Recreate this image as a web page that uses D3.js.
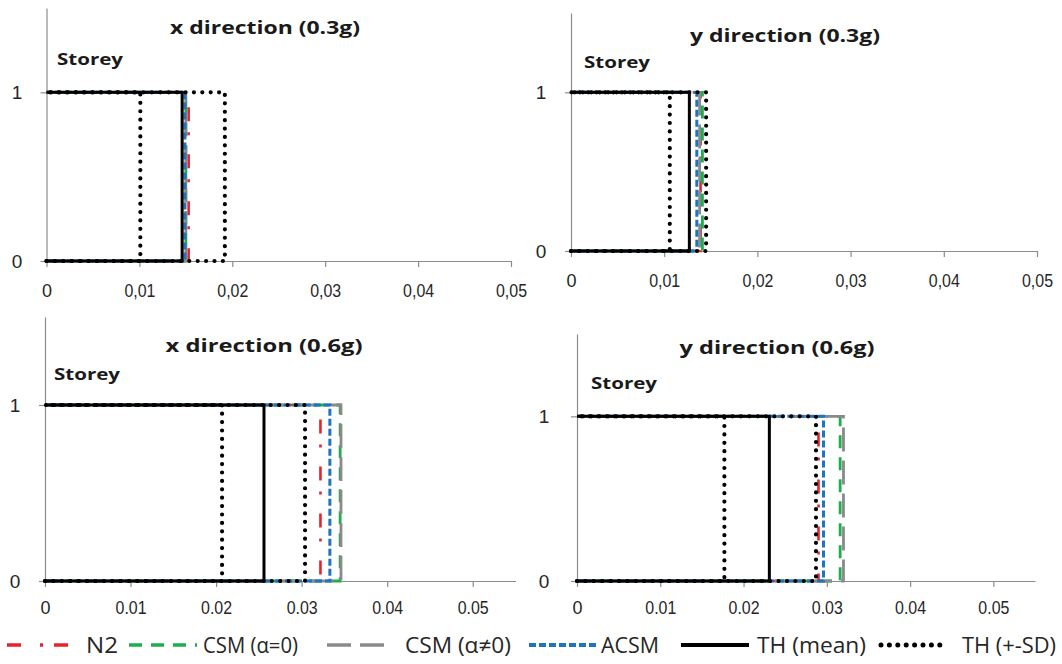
<!DOCTYPE html>
<html>
<head>
<meta charset="utf-8">
<script src="https://cdn.jsdelivr.net/npm/d3@7"></script>
<style>
  html, body { margin: 0; padding: 0; background: #fff; }
  svg { display: block; font-family: "Open Sans", "Liberation Sans", sans-serif; }
</style>
</head>
<body>
<svg id="chart" width="1062" height="664"></svg>
<script>
// Storey drift of a one-storey building: four load cases, six result sets each.
const panelTitles = ["x direction (0.3g)", "y direction (0.3g)", "x direction (0.6g)", "y direction (0.6g)"];
const seriesNames = ["N2", "CSM (α=0)", "CSM (α≠0)", "ACSM", "TH (mean)", "TH (+-SD)"];

// Drift values per panel (order: x 0.3g, y 0.3g, x 0.6g, y 0.6g)
const n2         = [0.0153, 0.0139, 0.0322, 0.0290];
const csmAlpha0  = [0.0150, 0.0141, 0.0345, 0.0316];
const csmAlphaNz = [0.0150, 0.0138, 0.0346, 0.0320];
const acsm       = [0.0149, 0.0135, 0.0333, 0.0296];
const thMean     = [0.0146, 0.0127, 0.0256, 0.0231];
const thMinusSD  = [0.0101, 0.0106, 0.0207, 0.0177];
const thPlusSD   = [0.0192, 0.0145, 0.0304, 0.0287];

const storeyTicks = [0, 1];
const storeyMax = 1.5;
const driftTicks = [0, 0.01, 0.02, 0.03, 0.04, 0.05];
const driftLabelsComma = ["0", "0,01", "0,02", "0,03", "0,04", "0,05"];
const driftLabelsPoint = ["0", "0.01", "0.02", "0.03", "0.04", "0.05"];
const driftMax = [0.05, 0.05, 0.055, 0.055];

// Line styles for each result set
const styles = [
  { color: "#e8232b", width: 2.6, dash: "14,19,3,11", cap: "butt" },
  { color: "#1fae4e", width: 2.8, dash: "13,9", cap: "butt" },
  { color: "#8a8a8a", width: 2.8, dash: "24,9", cap: "butt" },
  { color: "#1f74c0", width: 3, dash: "7,3", cap: "butt" },
  { color: "#000000", width: 3, dash: null, cap: "butt" },
  { color: "#000000", width: 4.2, dash: "0,8.4", cap: "round" }
];

// Panel frames (pixel layout)
const frames = [
  { x0: 46.5, x1: 511,  y0: 261, y1: 8,   title: [265, 28],  storey: [57, 59],  yLab: 17,  labDy: 30, labels: driftLabelsComma, titleW: 190 },
  { x0: 571,  x1: 1037, y0: 251, y1: 13,  title: [785, 36],  storey: [584, 62], yLab: 541, labDy: 30, labels: driftLabelsComma, titleW: 190 },
  { x0: 45,   x1: 515.5,y0: 581, y1: 317, title: [264, 346], storey: [54, 374], yLab: 15,  labDy: 27, labels: driftLabelsPoint, titleW: 197 },
  { x0: 577,  x1: 1035, y0: 581, y1: 334, title: [777, 348], storey: [591, 383], yLab: 544, labDy: 27, labels: driftLabelsPoint, titleW: 195 }
];

const svg = d3.select("#chart");
const axisColor = "#8c8c8c";
const textColor = "#262626";

frames.forEach((f, i) => {
  const x = d3.scaleLinear().domain([0, driftMax[i]]).range([f.x0, f.x1]);
  const y = d3.scaleLinear().domain([0, storeyMax]).range([f.y0, f.y1]);
  const g = svg.append("g");

  // x axis
  const xAxis = d3.axisBottom(x)
    .tickValues(driftTicks)
    .tickFormat((d, k) => f.labels[k])
    .tickSizeInner(6).tickSizeOuter(0);
  const gx = g.append("g").attr("transform", `translate(0,${f.y0})`).call(xAxis);
  gx.select(".domain").attr("stroke", axisColor).attr("stroke-width", 1.2);
  gx.selectAll(".tick line").attr("stroke", axisColor).attr("stroke-width", 1.2);
  gx.selectAll(".tick text")
    .attr("y", f.labDy).attr("dy", "0.35em")
    .attr("fill", textColor)
    .style("font-size", "18px")
    .each(function (d, k) {
      if (f.labels[k].length > 1) d3.select(this).attr("textLength", 31).attr("lengthAdjust", "spacingAndGlyphs");
    });

  // y axis
  const yAxis = d3.axisLeft(y).tickValues(storeyTicks).tickFormat(d3.format("d"))
    .tickSizeInner(6).tickSizeOuter(0);
  const gy = g.append("g").attr("transform", `translate(${f.x0},0)`).call(yAxis);
  gy.select(".domain").attr("stroke", axisColor).attr("stroke-width", 1.2);
  gy.selectAll(".tick line").attr("stroke", axisColor).attr("stroke-width", 1.2);
  gy.selectAll(".tick text")
    .attr("x", f.yLab - f.x0).attr("dy", "0.35em")
    .attr("text-anchor", "middle")
    .attr("fill", textColor)
    .style("font-size", "19px");

  // step profiles: drift held over the storey height
  const vals = [n2[i], csmAlpha0[i], csmAlphaNz[i], acsm[i], thMean[i]];
  const line = d3.line().x(d => x(d[0])).y(d => y(d[1]));
  const profile = v => [[0, 0], [v, 0], [v, 1], [0, 1]];

  const drawn = vals.map((v, k) => ({ v, s: styles[k] }));
  drawn.push({ v: thMinusSD[i], s: styles[5] });
  drawn.push({ v: thPlusSD[i], s: styles[5] });

  g.append("g").selectAll("path").data(drawn).join("path")
    .attr("d", d => line(profile(d.v)))
    .attr("fill", "none")
    .attr("stroke", d => d.s.color)
    .attr("stroke-width", d => d.s.width)
    .attr("stroke-dasharray", d => d.s.dash)
    .attr("stroke-linecap", d => d.s.cap)
    .attr("stroke-linejoin", "miter");

  // titles
  g.append("text")
    .attr("x", f.title[0]).attr("y", f.title[1]).attr("dy", "0.35em")
    .attr("text-anchor", "middle")
    .attr("font-weight", "bold").style("font-size", "18px")
    .attr("fill", "#1a1a1a")
    .attr("textLength", f.titleW).attr("lengthAdjust", "spacingAndGlyphs")
    .text(panelTitles[i]);

  g.append("text")
    .attr("x", f.storey[0]).attr("y", f.storey[1]).attr("dy", "0.35em")
    .attr("font-weight", "bold").style("font-size", "16px")
    .attr("fill", "#1a1a1a")
    .attr("textLength", 66).attr("lengthAdjust", "spacingAndGlyphs")
    .text("Storey");
});

// legend
const legendLayout = [
  { x1: 7,   x2: 82,  tx: 86,  tw: 32 },
  { x1: 129, x2: 197, tx: 203, tw: 95 },
  { x1: 327, x2: 384, tx: 405, tw: 106 },
  { x1: 529, x2: 597, tx: 601, tw: 58 },
  { x1: 681, x2: 749, tx: 757, tw: 109 },
  { x1: 881, x2: 946, tx: 962, tw: 94 }
];
const legendY = 645;
const lg = svg.append("g");
seriesNames.forEach((name, k) => {
  const L = legendLayout[k], s = styles[k];
  lg.append("line")
    .attr("x1", L.x1).attr("x2", L.x2).attr("y1", legendY).attr("y2", legendY)
    .attr("stroke", s.color)
    .attr("stroke-width", s.width + 0.8)
    .attr("stroke-dasharray", s.dash)
    .attr("stroke-linecap", s.cap);
  lg.append("text")
    .attr("x", L.tx).attr("y", legendY).attr("dy", "0.35em")
    .style("font-size", "22px").attr("fill", textColor)
    .attr("textLength", L.tw).attr("lengthAdjust", "spacingAndGlyphs")
    .text(name);
});
</script>
</body>
</html>
